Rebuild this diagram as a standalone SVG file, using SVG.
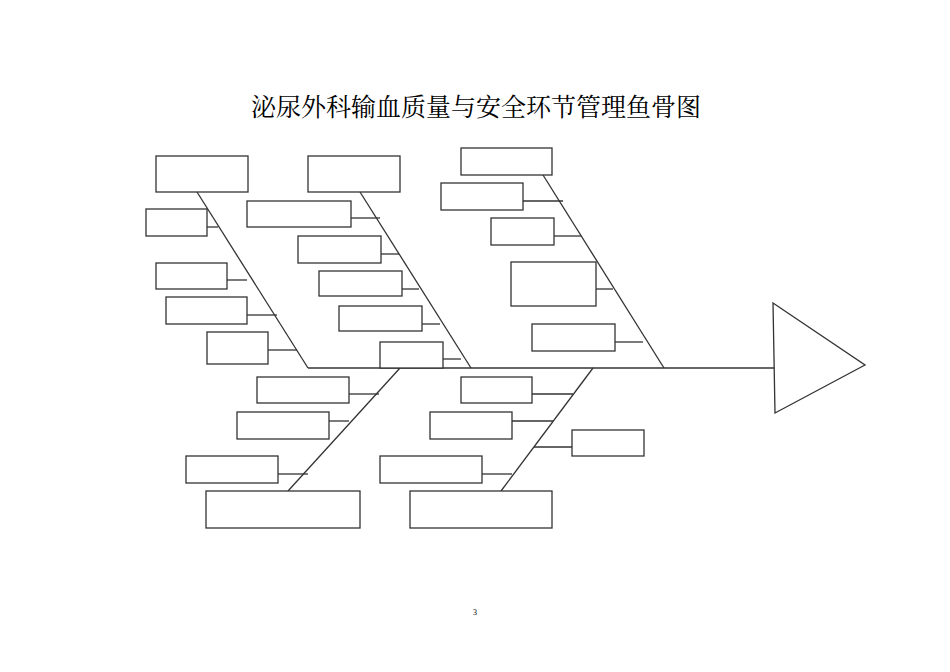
<svg xmlns="http://www.w3.org/2000/svg" width="950" height="672" viewBox="0 0 950 672">
<style>
rect{fill:#fff;stroke:#333;stroke-width:1.3}
line,polygon{stroke:#333;stroke-width:1.3;fill:none}
polygon{fill:#fff}
.t{font-family:"Liberation Serif","Noto Serif CJK SC","Noto Sans CJK SC",serif;fill:#000}
</style>
<rect x="0" y="0" width="950" height="672" style="stroke:none"/>
<text class="t" x="476" y="116" font-size="25" text-anchor="middle">泌尿外科输血质量与安全环节管理鱼骨图</text>
<text class="t" x="475" y="615" font-size="8" text-anchor="middle">3</text>
<g id="connectors">
<line x1="308" y1="368" x2="775" y2="368"/>
<line x1="197" y1="192" x2="308" y2="368"/>
<line x1="360" y1="192" x2="471" y2="368"/>
<line x1="543" y1="175" x2="664" y2="368"/>
<line x1="400" y1="368" x2="288" y2="491"/>
<line x1="593" y1="368" x2="501" y2="491"/>
<line x1="207" y1="227" x2="218" y2="227"/>
<line x1="227" y1="280" x2="247" y2="280"/>
<line x1="247" y1="315" x2="277" y2="315"/>
<line x1="268" y1="350" x2="297" y2="350"/>
<line x1="351" y1="218" x2="380" y2="218"/>
<line x1="381" y1="254" x2="399" y2="254"/>
<line x1="402" y1="289" x2="419" y2="289"/>
<line x1="422" y1="324" x2="440" y2="324"/>
<line x1="443" y1="359" x2="461" y2="359"/>
<line x1="523" y1="201" x2="563" y2="201"/>
<line x1="554" y1="236" x2="581" y2="236"/>
<line x1="596" y1="289" x2="613" y2="289"/>
<line x1="615" y1="342" x2="643" y2="342"/>
<line x1="349" y1="394" x2="379" y2="394"/>
<line x1="329" y1="421" x2="349" y2="421"/>
<line x1="278" y1="474" x2="308" y2="474"/>
<line x1="532" y1="394" x2="573" y2="394"/>
<line x1="512" y1="421" x2="553" y2="421"/>
<line x1="534" y1="447" x2="572" y2="447"/>
<line x1="482" y1="474" x2="512" y2="474"/>
</g>
<g id="head"><polygon points="773,303 865,365 775,413"/></g>
<g id="nA"><rect x="156" y="156" width="92" height="36"/></g>
<g id="nB"><rect x="308" y="156" width="92" height="36"/></g>
<g id="nC"><rect x="146" y="209" width="61" height="27"/></g>
<g id="nD"><rect x="156" y="263" width="71" height="26"/></g>
<g id="nE"><rect x="166" y="297" width="81" height="27"/></g>
<g id="nF"><rect x="207" y="332" width="61" height="32"/></g>
<g id="nG"><rect x="247" y="201" width="104" height="26"/></g>
<g id="nH"><rect x="298" y="236" width="83" height="27"/></g>
<g id="nI"><rect x="319" y="271" width="83" height="25"/></g>
<g id="nJ"><rect x="339" y="306" width="83" height="25"/></g>
<g id="nK"><rect x="380" y="342" width="63" height="26"/></g>
<g id="nL"><rect x="461" y="148" width="91" height="27"/></g>
<g id="nM"><rect x="441" y="183" width="82" height="27"/></g>
<g id="nN"><rect x="491" y="218" width="63" height="27"/></g>
<g id="nO"><rect x="511" y="262" width="85" height="44"/></g>
<g id="nP"><rect x="532" y="324" width="83" height="27"/></g>
<g id="nQ"><rect x="257" y="377" width="92" height="26"/></g>
<g id="nR"><rect x="237" y="412" width="92" height="27"/></g>
<g id="nS"><rect x="186" y="456" width="92" height="27"/></g>
<g id="nT"><rect x="206" y="491" width="154" height="37"/></g>
<g id="nU"><rect x="461" y="377" width="71" height="26"/></g>
<g id="nV"><rect x="430" y="412" width="82" height="27"/></g>
<g id="nW"><rect x="572" y="430" width="72" height="26"/></g>
<g id="nX"><rect x="380" y="456" width="102" height="27"/></g>
<g id="nY"><rect x="410" y="491" width="142" height="37"/></g>
</svg>
